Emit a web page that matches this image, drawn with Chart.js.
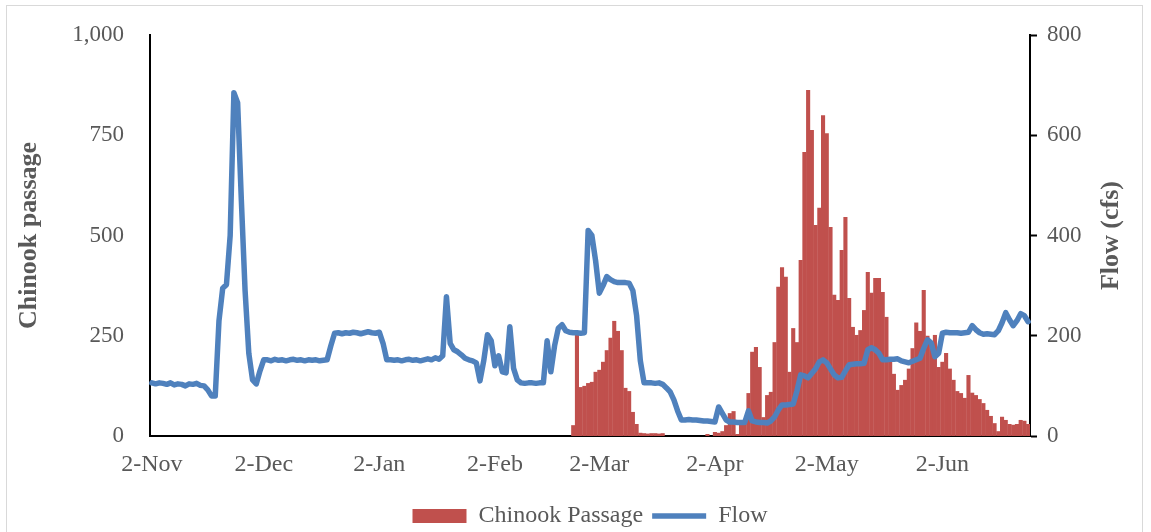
<!DOCTYPE html>
<html>
<head>
<meta charset="utf-8">
<script src="https://cdn.jsdelivr.net/npm/chart.js@4/dist/chart.umd.min.js"></script>
<style>
html,body{margin:0;padding:0;background:#fff;}
#wrap{position:relative;width:1151px;height:532px;overflow:hidden;}
#frame{position:absolute;left:6px;top:5px;width:1137px;height:560px;border:1px solid #d9d9d9;box-sizing:border-box;pointer-events:none;}
canvas{display:block;}
</style>
</head>
<body>
<div id="wrap"><canvas id="c" width="1151" height="538"></canvas><div id="frame"></div></div>
<script>
// ---- data ----
const startDate = '2018-11-02';
const dayCount = 236;
const tickLabels = ['2-Nov','2-Dec','2-Jan','2-Feb','2-Mar','2-Apr','2-May','2-Jun'];
const passageTicks = [0, 250, 500, 750, 1000];
const flowTicks = [0, 200, 400, 600, 800];

const chinookPassage = [
  0,0,0,0,0,0,0,0,0,0,0,0,0,0,0,0,0,0,0,0,
  0,0,0,0,0,0,0,0,0,0,0,0,0,0,0,0,0,0,0,0,
  0,0,0,0,0,0,0,0,0,0,0,0,0,0,0,0,0,0,0,0,
  0,0,0,0,0,0,0,0,0,0,0,0,0,0,0,0,0,0,0,0,
  0,0,0,0,0,0,0,0,0,0,0,0,0,0,0,0,0,0,0,0,
  0,0,0,0,0,0,0,0,0,0,0,0,0,
  27,257,122,125,132,135,160,165,185,214,245,287,262,214,120,112,60,30,8,7,6,7,7,6,7,
  0,0,0,0,0,0,0,0,0,0,0,
  5,0,10,8,12,27,57,62,5,35,40,
  107,210,222,172,47,102,110,234,372,421,397,160,269,234,439,708,863,763,526,569,800,755,521,352,339,464,546,344,272,252,264,314,
  409,357,394,394,359,297,187,155,115,127,140,168,219,283,262,364,250,227,252,172,185,207,
  168,140,112,107,95,152,108,102,92,82,65,50,32,12,48,40,30,28,30,40,38,30
];

const flow = [
  106,104,106,105,103,106,102,104,103,100,104,103,105,101,
  100,92,80,80,230,295,302,400,685,665,470,290,165,112,104,130,
  152,152,150,153,151,152,150,152,153,151,152,150,152,151,152,150,151,152,
  180,205,
  206,204,206,205,207,206,204,206,208,206,205,207,
  185,152,
  152,151,152,150,152,153,151,152,150,152,154,152,156,153,
  160,278,185,172,168,162,155,152,150,146,110,150,202,190,140,160,128,126,218,135,112,
  106,105,106,106,105,106,106,
  190,128,180,215,222,210,207,
  206,206,205,206,
  410,400,350,285,300,318,312,308,
  306,306,306,305,
  290,240,150,106,
  106,106,105,106,
  103,96,88,72,50,32,
  32,33,32,32,31,30,30,29,28,
  58,45,32,28,
  28,27,27,27,
  50,30,
  28,27,27,26,
  30,38,52,62,
  62,63,64,
  90,122,120,116,125,134,148,152,146,134,122,116,117,130,142,
  143,144,144,145,
  172,176,172,165,152,
  152,153,153,154,
  150,148,146,149,152,155,175,192,186,158,165,205,
  207,206,206,206,205,206,207,
  220,212,206,203,
  204,203,202,
  210,226,246,232,220,230,244,240,228
];

// category labels (one per day)
const monthNames = ['Jan','Feb','Mar','Apr','May','Jun','Jul','Aug','Sep','Oct','Nov','Dec'];
const categories = [];
{
  const d0 = new Date(startDate + 'T00:00:00Z');
  for (let i = 0; i < dayCount; i++) {
    const d = new Date(d0.getTime() + i * 86400000);
    categories.push(d.getUTCDate() + '-' + monthNames[d.getUTCMonth()]);
  }
}

const FONT = '"Liberation Serif", "Times New Roman", serif';
const GREY = '#595959';

const rightTitle = {
  id: 'rightTitle',
  afterDraw(chart) {
    const ctx = chart.ctx;
    ctx.save();
    ctx.font = 'bold 26px ' + FONT;
    ctx.fillStyle = GREY;
    ctx.translate(1111, (chart.chartArea.top + chart.chartArea.bottom) / 2);
    ctx.rotate(-Math.PI / 2);
    ctx.textAlign = 'center';
    ctx.textBaseline = 'middle';
    ctx.fillText('Flow (cfs)', 0, 0);
    ctx.restore();
  }
};

new Chart(document.getElementById('c'), {
  data: {
    labels: categories,
    datasets: [
      {
        type: 'bar',
        label: 'Chinook Passage',
        data: chinookPassage,
        backgroundColor: '#C0504D',
        borderWidth: 0,
        barPercentage: 1.1,
        categoryPercentage: 1.0,
        yAxisID: 'y',
        order: 1,
        pointStyle: 'rect'
      },
      {
        type: 'line',
        label: 'Flow',
        data: flow,
        borderColor: '#4F81BD',
        backgroundColor: '#4F81BD',
        borderWidth: 5.5,
        pointRadius: 0,
        tension: 0,
        borderJoinStyle: 'round',
        borderCapStyle: 'round',
        yAxisID: 'y1',
        order: 0,
        pointStyle: 'line'
      }
    ]
  },
  options: {
    responsive: false,
    animation: false,
    devicePixelRatio: 1,
    layout: { padding: { top: 35, left: 8, right: 0, bottom: 0 } },
    plugins: {
      tooltip: { enabled: false },
      legend: {
        position: 'bottom',
        fullSize: false,
        labels: {
          usePointStyle: true,
          pointStyleWidth: 54,
          boxHeight: 14,
          padding: 9,
          color: GREY,
          font: { family: FONT, size: 24 },
          sort: (a, b) => a.datasetIndex - b.datasetIndex
        }
      }
    },
    scales: {
      x: {
        type: 'category',
        offset: true,
        grid: { display: false },
        border: { display: true, color: '#000', width: 2 },
        ticks: {
          autoSkip: false,
          maxRotation: 0,
          minRotation: 0,
          padding: 6,
          color: GREY,
          font: { family: FONT, size: 24 }
        },
        afterBuildTicks(scale) {
          scale.ticks = scale.ticks.filter(t => tickLabels.includes(categories[t.value]));
        },
        afterFit(scale) { scale.height = 59; }
      },
      y: {
        position: 'left',
        min: 0,
        max: 1000,
        grid: { display: false },
        border: { display: true, color: '#000', width: 2 },
        ticks: {
          stepSize: 250,
          padding: 18,
          color: GREY,
          font: { family: FONT, size: 23 },
          callback: v => passageTicks.includes(v) ? v.toLocaleString('en-US') : ''
        },
        title: {
          display: true,
          text: 'Chinook passage',
          color: GREY,
          font: { family: FONT, size: 26, weight: 'bold' },
          padding: { top: 6, bottom: 0 }
        },
        afterFit(scale) { scale.width = 142; }
      },
      y1: {
        position: 'right',
        min: 0,
        max: 800,
        grid: {
          display: true,
          drawOnChartArea: false,
          drawTicks: true,
          tickLength: 7,
          tickColor: '#000',
          tickWidth: 2,
          color: '#000'
        },
        border: { display: true, color: '#000', width: 2 },
        ticks: {
          stepSize: 200,
          padding: 10,
          color: GREY,
          font: { family: FONT, size: 23 },
          callback: v => flowTicks.includes(v) ? String(v) : ''
        },
        afterFit(scale) { scale.width = 121; }
      }
    }
  },
  plugins: [rightTitle]
});
</script>
</body>
</html>
